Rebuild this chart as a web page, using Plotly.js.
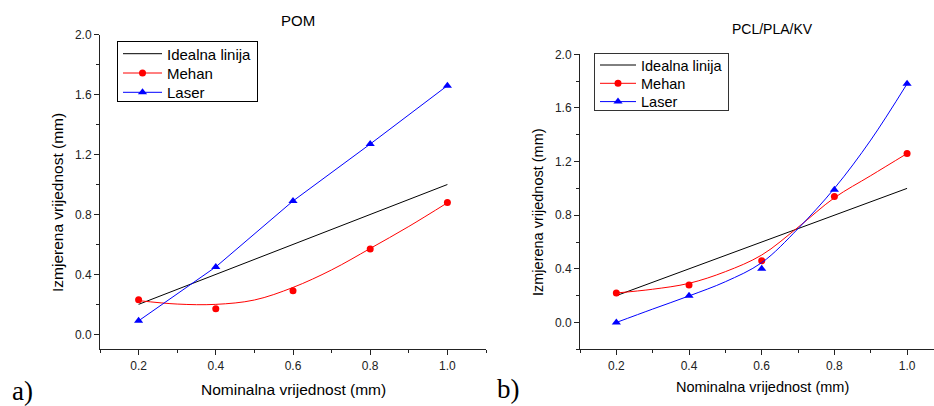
<!DOCTYPE html>
<html><head><meta charset="utf-8">
<script src="https://cdn.plot.ly/plotly-3.0.1.min.js"></script>
<style>html,body{margin:0;padding:0;background:#fff}#chart{width:934px;height:406px}</style>
</head><body><div id="chart"></div>
<script>
// ---- data ----
const nominal = [0.2, 0.4, 0.6, 0.8, 1.0];
const idealX = [0.2, 1.0];
const idealY = [0.2, 1.0];
const pomMehan = [0.23, 0.17, 0.29, 0.57, 0.88];
const pomLaser = [0.09, 0.45, 0.89, 1.27, 1.66];
const fitX = [0.2, 0.3, 0.4, 0.5, 0.6, 0.7, 0.8, 0.9, 1.0];
const pomMehanFit = [0.225, 0.202, 0.2, 0.229, 0.313, 0.43, 0.573, 0.72, 0.878];
const pclMehan = [0.22, 0.28, 0.46, 0.94, 1.26];
const pclLaser = [0.0, 0.2, 0.40, 0.99, 1.78];
const pclMehanFit = [0.22, 0.248, 0.292, 0.379, 0.503, 0.71, 0.93, 1.095, 1.26];
const pclLaserFit = [0.0, 0.1, 0.198, 0.304, 0.446, 0.70, 1.0, 1.36, 1.78];
const seriesNames = ['Idealna linija', 'Mehan', 'Laser'];
const titles = ['POM', 'PCL/PLA/KV'];
const xTitle = 'Nominalna vrijednost (mm)';
const yTitle = 'Izmjerena vrijednost (mm)';

const FONT = 'Arial, "Liberation Sans", sans-serif';
const RED = '#ff0000', BLUE = '#0000ff', BLACK = '#000000';
const W = 934, H = 406;
const px = v => v / W, py = v => 1 - v / H;

function panel(xa, ya, lg, mehanFit, mehanY, laserFit, laserY) {
  const tr = [];
  tr.push({x: idealX, y: idealY, xaxis: xa, yaxis: ya, mode: 'lines', line: {color: BLACK, width: 1}, showlegend: false, hoverinfo: 'skip'});
  tr.push({x: fitX, y: mehanFit, xaxis: xa, yaxis: ya, mode: 'lines', line: {color: RED, width: 1, shape: 'spline', smoothing: 1}, showlegend: false});
  tr.push({x: nominal, y: mehanY, xaxis: xa, yaxis: ya, mode: 'markers', marker: {color: RED, size: 7, symbol: 'circle'}, showlegend: false});
  if (laserFit) {
    tr.push({x: fitX, y: laserFit, xaxis: xa, yaxis: ya, mode: 'lines', line: {color: BLUE, width: 1, shape: 'spline', smoothing: 1}, showlegend: false});
    tr.push({x: nominal, y: laserY, xaxis: xa, yaxis: ya, mode: 'markers', marker: {color: BLUE, size: 8, symbol: 'triangle-up'}, showlegend: false});
  } else {
    tr.push({x: nominal, y: laserY, xaxis: xa, yaxis: ya, mode: 'lines+markers', line: {color: BLUE, width: 1}, marker: {color: BLUE, size: 8, symbol: 'triangle-up'}, showlegend: false});
  }
  // legend-only entries
  tr.push({x: [null], y: [null], xaxis: xa, yaxis: ya, name: seriesNames[0], legend: lg, mode: 'lines', line: {color: BLACK, width: 1}});
  tr.push({x: [null], y: [null], xaxis: xa, yaxis: ya, name: seriesNames[1], legend: lg, mode: 'lines+markers', line: {color: RED, width: 1}, marker: {color: RED, size: 7}});
  tr.push({x: [null], y: [null], xaxis: xa, yaxis: ya, name: seriesNames[2], legend: lg, mode: 'lines+markers', line: {color: BLUE, width: 1}, marker: {color: BLUE, size: 8, symbol: 'triangle-up'}});
  return tr;
}

const traces = [].concat(
  panel('x', 'y', 'legend', pomMehanFit, pomMehan, null, pomLaser),
  panel('x2', 'y2', 'legend2', pclMehanFit, pclMehan, pclLaserFit, pclLaser)
);

function xax(domain, range) {
  return {domain: domain, range: range, tick0: 0.2, dtick: 0.2, tickformat: '.1f',
    ticks: 'outside', ticklen: 5, tickcolor: '#222', showline: true, linecolor: '#222', linewidth: 1,
    showgrid: false, zeroline: false, tickfont: {family: FONT, size: 12, color: '#222'},
    minor: {ticks: 'outside', ticklen: 3, dtick: 0.1, tick0: 0.1, tickcolor: '#222', showgrid: false},
    fixedrange: true};
}
function yax(domain, range, anchor) {
  return {domain: domain, range: range, anchor: anchor, tick0: 0, dtick: 0.4, tickformat: '.1f',
    ticks: 'outside', ticklen: 5, tickcolor: '#222', showline: true, linecolor: '#222', linewidth: 1,
    showgrid: false, zeroline: false, tickfont: {family: FONT, size: 12, color: '#222'},
    minor: {ticks: 'outside', ticklen: 3, dtick: 0.2, tick0: 0, tickcolor: '#222', showgrid: false},
    fixedrange: true};
}

const layout = {
  width: W, height: H,
  margin: {l: 0, r: 0, t: 0, b: 0},
  paper_bgcolor: '#fff', plot_bgcolor: 'rgba(0,0,0,0)',
  font: {family: FONT, color: '#000'},
  xaxis: Object.assign(xax([px(100), px(486)], [0.1, 1.1]), {anchor: 'y'}),
  yaxis: yax([py(349.3), py(34.7)], [-0.1, 2.0], 'x'),
  xaxis2: Object.assign(xax([px(580), 1], [0.1, 1.0741]), {anchor: 'y2'}),
  yaxis2: yax([py(349.3), py(54.3)], [-0.2, 2.0], 'x2'),
  legend: {x: px(117), y: py(41), xanchor: 'left', yanchor: 'top', bgcolor: '#fff',
    bordercolor: '#000', borderwidth: 1, font: {family: FONT, size: 15, color: '#000'},
    tracegroupgap: 0, itemwidth: 39},
  legend2: {x: px(594), y: py(53.3), xanchor: 'left', yanchor: 'top', bgcolor: '#fff',
    bordercolor: '#333', borderwidth: 1, font: {family: FONT, size: 14.5, color: '#000'},
    tracegroupgap: 0, itemwidth: 36},
  annotations: [
    {text: titles[0], xref: 'paper', yref: 'paper', x: px(297.7), y: py(21), xanchor: 'center', yanchor: 'middle', showarrow: false, font: {family: FONT, size: 15}},
    {text: titles[1], xref: 'paper', yref: 'paper', x: px(772.7), y: py(29), xanchor: 'center', yanchor: 'middle', showarrow: false, font: {family: FONT, size: 14}},
    {text: xTitle, xref: 'paper', yref: 'paper', x: px(293), y: py(389), xanchor: 'center', yanchor: 'middle', showarrow: false, font: {family: FONT, size: 15.5}},
    {text: xTitle, xref: 'paper', yref: 'paper', x: px(762), y: py(387), xanchor: 'center', yanchor: 'middle', showarrow: false, font: {family: FONT, size: 14.5}},
    {text: yTitle, xref: 'paper', yref: 'paper', x: px(57), y: py(203), xanchor: 'center', yanchor: 'middle', textangle: -90, showarrow: false, font: {family: FONT, size: 15.5}},
    {text: yTitle, xref: 'paper', yref: 'paper', x: px(538), y: py(212), xanchor: 'center', yanchor: 'middle', textangle: -90, showarrow: false, font: {family: FONT, size: 14.5}},
    {text: 'a)', xref: 'paper', yref: 'paper', x: px(10), y: py(391), xanchor: 'left', yanchor: 'middle', showarrow: false, font: {family: '"Liberation Serif", "Times New Roman", serif', size: 27}},
    {text: 'b)', xref: 'paper', yref: 'paper', x: px(495), y: py(389), xanchor: 'left', yanchor: 'middle', showarrow: false, font: {family: '"Liberation Serif", "Times New Roman", serif', size: 27}}
  ]
};

// tighten legend row spacing to match the reference
const legendRows = {legend: {first: 12.7, step: 19.3, h: 60}, legend2: {first: 11.7, step: 18.3, h: 56.7}};

Plotly.newPlot('chart', traces, layout, {staticPlot: true, displayModeBar: false}).then(gd => {
  for (const id in legendRows) {
    const cfg = legendRows[id];
    const g = gd.querySelector('g.' + id);
    if (!g) continue;
    g.querySelectorAll('g.traces').forEach((it, i) => {
      const t = it.getAttribute('transform') || '';
      const m = /translate\(\s*([-\d.eE]+)[ ,]+([-\d.eE]+)\s*\)/.exec(t);
      const xoff = m ? m[1] : 1;
      it.setAttribute('transform', 'translate(' + xoff + ',' + (cfg.first + i * cfg.step) + ')');
    });
    const bg = g.querySelector('rect.bg');
    if (bg) bg.setAttribute('height', cfg.h);
  }
});
</script></body></html>
